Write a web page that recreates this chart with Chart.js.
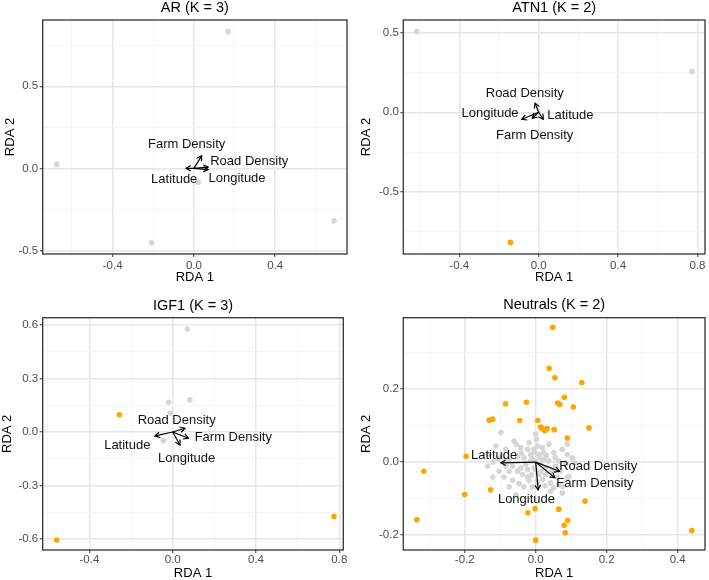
<!DOCTYPE html>
<html lang="en">
<head>
<meta charset="UTF-8">
<title>RDA biplots</title>
<script src="https://cdn.jsdelivr.net/npm/chart.js"></script>
<style>
  body { margin: 0; background: #fff; }
  #wrap { position: relative; width: 709px; height: 580px; background: #fff; }
  #wrap canvas { position: absolute; }
</style>
</head>
<body>
<div id="wrap">
  <canvas id="pAR" width="354" height="290" style="left:0;top:0"></canvas>
  <canvas id="pATN1" width="355" height="290" style="left:354px;top:0"></canvas>
  <canvas id="pIGF1" width="354" height="290" style="left:0;top:290px"></canvas>
  <canvas id="pNeutral" width="355" height="290" style="left:354px;top:290px"></canvas>
</div>
<script>
// variable order for arrows and labels
const varNames = ['Latitude', 'Longitude', 'Road Density', 'Farm Density'];

// AR (K = 3)
const arGreyX = [0.169, -0.675, -0.208, 0.689, 0.021];
const arGreyY = [0.833, 0.024, -0.454, -0.319, -0.085];
const arOrangeX = [];
const arOrangeY = [];
const arArrowX = [-0.039, 0.070, 0.070, 0.038];
const arArrowY = [0.000, -0.008, 0.008, 0.077];
const arLabelX = [-0.097, 0.212, 0.272, -0.036];
const arLabelY = [-0.067, -0.061, 0.040, 0.148];

// ATN1 (K = 2)
const atnGreyX = [-0.615, 0.772];
const atnGreyY = [0.507, 0.256];
const atnOrangeX = [-0.142];
const atnOrangeY = [-0.818];
const atnArrowX = [0.023, -0.085, -0.018, -0.032];
const atnArrowY = [-0.044, -0.044, 0.057, -0.038];
const atnLabelX = [0.160, -0.245, -0.070, -0.020];
const atnLabelY = [-0.017, -0.006, 0.120, -0.143];

// IGF1 (K = 3)
const igfGreyX = [0.070, -0.019, 0.082, -0.010, -0.045];
const igfGreyY = [0.578, 0.167, 0.180, 0.105, -0.049];
const igfOrangeX = [-0.256, -0.557, 0.774];
const igfOrangeY = [0.097, -0.606, -0.474];
const igfArrowX = [-0.085, 0.035, 0.059, 0.075];
const igfArrowY = [-0.022, -0.073, 0.021, -0.035];
const igfLabelX = [-0.218, 0.067, 0.019, 0.291];
const igfLabelY = [-0.077, -0.148, 0.067, -0.032];

// Neutrals (K = 2)
const neuGreyX = [-0.098, -0.061, -0.054, -0.023, 0.002, 0.005, -0.014, 0.023, 0.051, 0.009,
  -0.033, -0.051, -0.075, -0.107, -0.131, -0.135, -0.065, -0.042, -0.023, -0.005,
  -0.103, -0.075, -0.121, -0.089, -0.065, -0.047, -0.019, -0.037, 0.009, 0.028,
  0.042, 0.061, 0.070, 0.028, 0.042, 0.075, 0.084, 0.089, 0.104, 0.023,
  0.037, -0.014, -0.028, 0.014, 0.000, 0.019, -0.009, -0.033, -0.075, 0.056,
  0.065, -0.084, -0.112, -0.042, -0.019, 0.000, -0.005, 0.019, 0.037, 0.075,
  0.089, 0.051, 0.065, 0.005, -0.023, -0.051, -0.084, 0.076, 0.093, 0.089,
  0.109, -0.056, 0.012, -0.010, 0.030, -0.040, 0.045, 0.015, -0.012, 0.055,
  -0.095, 0.000, -0.003, 0.026, -0.120];
const neuGreyY = [0.081, 0.058, 0.049, 0.035, 0.063, 0.044, 0.021, 0.026, 0.026, 0.021,
  0.012, 0.017, 0.007, 0.009, 0.021, -0.011, -0.011, -0.016, -0.020, -0.016,
  -0.025, -0.025, -0.041, -0.041, -0.050, -0.059, -0.050, -0.034, -0.034, -0.034,
  -0.057, -0.041, -0.025, -0.016, -0.080, -0.085, -0.002, 0.021, 0.012, 0.007,
  0.003, 0.003, -0.006, -0.006, -0.020, -0.048, -0.068, -0.068, -0.068, -0.011,
  0.003, 0.035, 0.044, 0.040, 0.053, 0.077, 0.035, 0.040, 0.049, 0.035,
  0.050, -0.071, -0.062, -0.055, -0.041, -0.025, -0.011, -0.066, -0.039, -0.043,
  -0.002, -0.090, 0.012, 0.010, 0.018, 0.025, -0.025, -0.025, -0.035, 0.012,
  0.015, 0.002, 0.028, -0.065, 0.000];
const neuOrangeX = [0.048, 0.038, 0.054, 0.130, 0.081, -0.085, -0.026, 0.062, 0.068, 0.106,
  -0.131, -0.121, -0.045, 0.006, 0.014, 0.018, 0.032, 0.026, 0.052, 0.150,
  0.089, -0.196, -0.315, -0.200, -0.127, 0.139, -0.002, -0.022, 0.065, -0.335,
  0.090, 0.080, 0.083, 0.000, 0.440];
const neuOrangeY = [0.370, 0.257, 0.231, 0.218, 0.178, 0.160, 0.164, 0.162, 0.158, 0.151,
  0.115, 0.118, 0.114, 0.114, 0.096, 0.092, 0.092, 0.086, 0.089, 0.094,
  0.066, 0.016, -0.025, -0.089, -0.076, -0.107, -0.127, -0.139, -0.129, -0.158,
  -0.160, -0.173, -0.194, -0.214, -0.188];
const neuArrowX = [-0.098, 0.007, 0.067, 0.054];
const neuArrowY = [-0.002, -0.076, -0.025, -0.043];
const neuLabelX = [-0.117, -0.026, 0.176, 0.167];
const neuLabelY = [0.019, -0.103, -0.011, -0.059];

const FONT = "'Liberation Sans', Arial, Helvetica, sans-serif";
Chart.defaults.font.family = FONT;

const panels = [
  { id: 'pAR', title: 'AR (K = 3)', titleMid: 7.7,
    area: { left: 42.7, top: 20, right: 347, bottom: 254 },
    xMin: -0.744, xMax: 0.753, xMajor: 0.4, yMin: -0.522, yMax: 0.904, yMajor: 0.5,
    yTitlePad: 3.5, xTitlePad: 6.5, xTickPad: 1.5,
    greyX: arGreyX, greyY: arGreyY, orangeX: arOrangeX, orangeY: arOrangeY,
    arrowX: arArrowX, arrowY: arArrowY, labelX: arLabelX, labelY: arLabelY },
  { id: 'pATN1', title: 'ATN1 (K = 2)', titleMid: 8,
    area: { left: 49.3, top: 20, right: 353.3, bottom: 254 },
    xMin: -0.682, xMax: 0.838, xMajor: 0.4, yMin: -0.891, yMax: 0.580, yMajor: 0.5,
    yTitlePad: 6, xTitlePad: 5.8, xTickPad: 1.5,
    greyX: atnGreyX, greyY: atnGreyY, orangeX: atnOrangeX, orangeY: atnOrangeY,
    arrowX: atnArrowX, arrowY: atnArrowY, labelX: atnLabelX, labelY: atnLabelY },
  { id: 'pIGF1', title: 'IGF1 (K = 3)', titleMid: 15.5,
    area: { left: 42.7, top: 27.7, right: 343.3, bottom: 260 },
    xMin: -0.624, xMax: 0.819, xMajor: 0.4, yMin: -0.662, yMax: 0.641, yMajor: 0.3,
    yTitlePad: 0.5, xTitlePad: 0, xTickPad: 0,
    greyX: igfGreyX, greyY: igfGreyY, orangeX: igfOrangeX, orangeY: igfOrangeY,
    arrowX: igfArrowX, arrowY: igfArrowY, labelX: igfLabelX, labelY: igfLabelY },
  { id: 'pNeutral', title: 'Neutrals (K = 2)', titleMid: 15,
    area: { left: 49.3, top: 27.7, right: 353.3, bottom: 260 },
    xMin: -0.373, xMax: 0.477, xMajor: 0.2, yMin: -0.241, yMax: 0.396, yMajor: 0.2,
    yTitlePad: 6, xTitlePad: 0, xTickPad: 0,
    greyX: neuGreyX, greyY: neuGreyY, orangeX: neuOrangeX, orangeY: neuOrangeY,
    arrowX: neuArrowX, arrowY: neuArrowY, labelX: neuLabelX, labelY: neuLabelY }
];

function isMajor(v, major) {
  const r = v / major;
  return Math.abs(r - Math.round(r)) < 1e-6;
}

function axisOpts(min, max, major, tickPad, extra) {
  return Object.assign({
    type: 'linear', min: min, max: max,
    border: { display: false },
    grid: {
      drawTicks: true, tickLength: 3,
      color: ctx => isMajor(ctx.tick.value, major) ? '#e6e6e6' : '#f2f2f2',
      lineWidth: ctx => isMajor(ctx.tick.value, major) ? 1.5 : 0.8,
      tickColor: ctx => isMajor(ctx.tick.value, major) ? '#333333' : 'rgba(0,0,0,0)',
      tickWidth: 1
    },
    ticks: {
      stepSize: major / 2, includeBounds: false, autoSkip: false, maxRotation: 0,
      color: '#4d4d4d', font: { size: 11.5 }, padding: tickPad,
      callback: v => isMajor(v, major) ? v.toFixed(1) : ''
    }
  }, extra);
}

// arrowheads, variable labels and panel frame
function makeOverlay(p) {
  return {
    id: 'overlay_' + p.id,
    afterDatasetsDraw(chart) {
      const { ctx, scales: { x, y } } = chart;
      const x0 = x.getPixelForValue(0), y0 = y.getPixelForValue(0);
      ctx.save();
      ctx.strokeStyle = '#000';
      ctx.lineWidth = 1.2;
      p.arrowX.forEach((ax, i) => {
        const x1 = x.getPixelForValue(ax), y1 = y.getPixelForValue(p.arrowY[i]);
        const ang = Math.atan2(y1 - y0, x1 - x0);
        const len = 5.5, spread = Math.PI / 6;
        ctx.beginPath();
        ctx.moveTo(x1 - len * Math.cos(ang - spread), y1 - len * Math.sin(ang - spread));
        ctx.lineTo(x1, y1);
        ctx.lineTo(x1 - len * Math.cos(ang + spread), y1 - len * Math.sin(ang + spread));
        ctx.stroke();
      });
      ctx.fillStyle = '#111';
      ctx.font = '13px ' + FONT;
      ctx.textAlign = 'center';
      ctx.textBaseline = 'middle';
      varNames.forEach((name, i) => {
        ctx.fillText(name, x.getPixelForValue(p.labelX[i]), y.getPixelForValue(p.labelY[i]));
      });
      ctx.restore();
    },
    afterDraw(chart) {
      const { ctx, chartArea: a } = chart;
      ctx.save();
      ctx.strokeStyle = '#333333';
      ctx.lineWidth = 1.3;
      ctx.strokeRect(a.left, a.top, a.right - a.left, a.bottom - a.top);
      ctx.restore();
    }
  };
}

panels.forEach(p => {
  const el = document.getElementById(p.id);
  const W = el.width, H = el.height;
  const titleSize = 14.5;
  const padTop = p.titleMid - titleSize / 2;

  const shafts = p.arrowX.map((ax, i) => ({
    data: [{ x: 0, y: 0 }, { x: ax, y: p.arrowY[i] }],
    showLine: true, borderColor: '#000', borderWidth: 1.2, pointRadius: 0
  }));
  const orange = {
    data: p.orangeX.map((v, i) => ({ x: v, y: p.orangeY[i] })),
    pointRadius: 2.8, pointBackgroundColor: '#ffa500', pointBorderWidth: 0
  };
  const grey = {
    data: p.greyX.map((v, i) => ({ x: v, y: p.greyY[i] })),
    pointRadius: 2.8, pointBackgroundColor: '#d6d6d6', pointBorderWidth: 0
  };

  new Chart(el, {
    type: 'scatter',
    data: { datasets: shafts.concat([orange, grey]) },
    options: {
      responsive: false,
      animation: false,
      events: [],
      layout: { padding: { left: 0, top: padTop, right: W - p.area.right, bottom: 0 } },
      plugins: {
        legend: { display: false },
        tooltip: { enabled: false },
        title: {
          display: true, text: p.title, fullSize: false, color: '#000',
          font: { size: titleSize, weight: 'normal', lineHeight: 1 },
          padding: { top: 0, bottom: p.area.top - padTop - titleSize }
        }
      },
      scales: {
        x: axisOpts(p.xMin, p.xMax, p.xMajor, p.xTickPad, {
          position: 'bottom',
          afterFit: s => { s.height = H - p.area.bottom; },
          title: { display: true, text: 'RDA 1', color: '#000',
            font: { size: 13, lineHeight: 1 }, padding: { top: 0, bottom: p.xTitlePad } }
        }),
        y: axisOpts(p.yMin, p.yMax, p.yMajor, 1.5, {
          position: 'left',
          afterFit: s => { s.width = p.area.left; },
          title: { display: true, text: 'RDA 2', color: '#000',
            font: { size: 13, lineHeight: 1 }, padding: { top: p.yTitlePad, bottom: 0 } }
        })
      }
    },
    plugins: [makeOverlay(p)]
  });
});
</script>
</body>
</html>
